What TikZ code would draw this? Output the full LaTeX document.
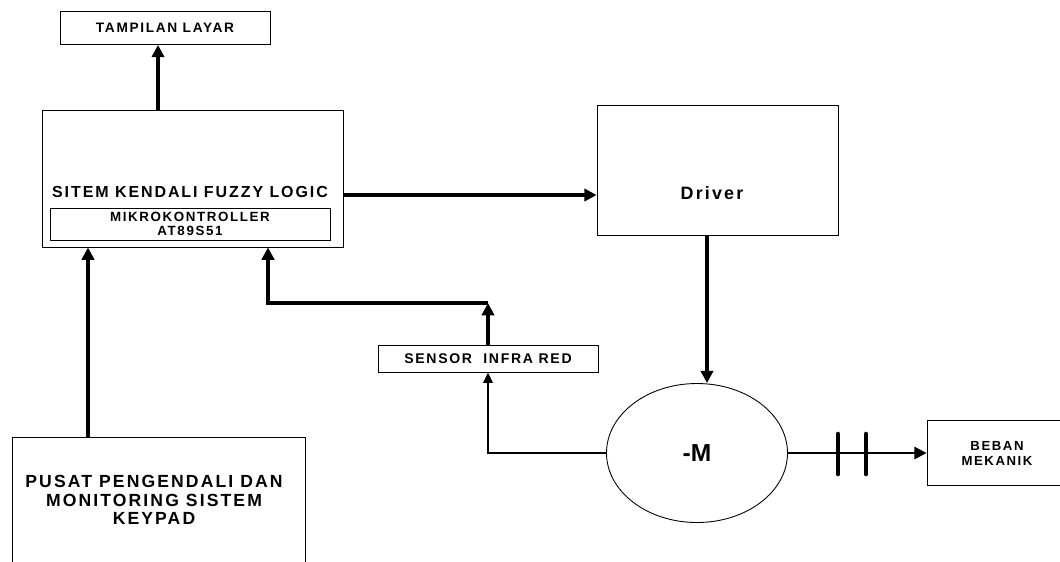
\documentclass[tikz,border=0pt]{standalone}
\usepackage{fontspec}
\setmainfont{Liberation Sans}
\newfontfamily\spaced[LetterSpace=12]{Liberation Sans}
\usetikzlibrary{arrows.meta,positioning,shapes.geometric}

\begin{document}
\begin{tikzpicture}[
  box/.style={draw,line width=0.5pt,inner sep=0pt,font=\spaced\bfseries\fontsize{7.8}{8.5}\selectfont,
              align=center},
  lbl/.style={font=\spaced\bfseries\fontsize{7.8}{8.5}\selectfont,align=center},
  arr/.style={-{Triangle[length=7pt,width=7pt]},line width=1.8pt},
  thinarr/.style={-{Triangle[length=6pt,width=5.5pt]},line width=0.7pt}
]
\useasboundingbox (0,0) rectangle (21.2,-11.22);
% blocks
\node[box,minimum width=4.2cm,minimum height=0.66cm] (layar) at (3.3,-0.56) {TAMPILAN LAYAR};
\node[box,minimum width=6.02cm,minimum height=2.74cm] (fuzzy) at (3.85,-3.57) {};
\node[lbl,font=\spaced\bfseries\fontsize{9.1}{10}\selectfont] (fuzzytxt) at (3.8,-3.84) {SITEM KENDALI FUZZY LOGIC};
\node[box,minimum width=5.6cm,minimum height=0.64cm,font=\spaced\bfseries\fontsize{7.6}{7.6}\selectfont] (mikro) at (3.8,-4.48) {MIKROKONTROLLER\\AT89S51};
\node[box,minimum width=4.82cm,minimum height=2.6cm] (driver) at (14.35,-3.4) {};
\node[lbl,font=\spaced\bfseries\fontsize{10.2}{11}\selectfont] (drivertxt) at (14.24,-3.86) {Driver};
\node[box,minimum width=4.4cm,minimum height=0.54cm,font=\spaced\bfseries\fontsize{8}{8.5}\selectfont] (sensor) at (9.76,-7.17) {SENSOR \ INFRA RED};
\node[box,ellipse,minimum width=3.62cm,minimum height=2.78cm,font=\bfseries\fontsize{14}{15}\selectfont] (motor) at (13.94,-9.06) {-M};
\node[box,minimum width=2.8cm,minimum height=1.3cm,font=\spaced\bfseries\fontsize{7.5}{8.5}\selectfont] (beban) at (19.94,-9.06) {BEBAN\\MEKANIK};
\node[box,anchor=north,minimum width=5.86cm,minimum height=3cm] (pusat) at (3.17,-8.74) {};
\node[lbl,font=\spaced\bfseries\fontsize{10}{10.5}\selectfont] (pusattxt) at (3.08,-10.0) {PUSAT PENGENDALI DAN\\MONITORING SISTEM\\KEYPAD};
\coordinate (tikungan) at (9.76,-6.06);
% connectors
\draw[arr] (fuzzy.north -| layar.south) ++(-0.14,0) coordinate (up) (up) -- (up |- layar.south);
\draw[arr] (fuzzy.east |- 0,-3.9) -- (driver.west |- 0,-3.9);
\draw[arr] (driver.south -| motor.north) ++(0.2,0) coordinate (dn) (dn) -- (dn |- motor.north);
\draw[arr] (pusat.north -| 1.76,0) -- (fuzzy.south -| 1.76,0);
\draw[arr] (sensor.north) -- (tikungan);
\draw[arr] (tikungan) -| (fuzzy.south -| 5.36,0);
\draw[thinarr] (motor.west) -| (sensor.south);
\draw[arr,line width=1.3pt] (motor.east) -- (beban.west);
\draw[line width=2.6pt,line cap=round] (16.76,-8.68) -- (16.76,-9.48);
\draw[line width=2.6pt,line cap=round] (17.32,-8.68) -- (17.32,-9.48);
\end{tikzpicture}
\end{document}
